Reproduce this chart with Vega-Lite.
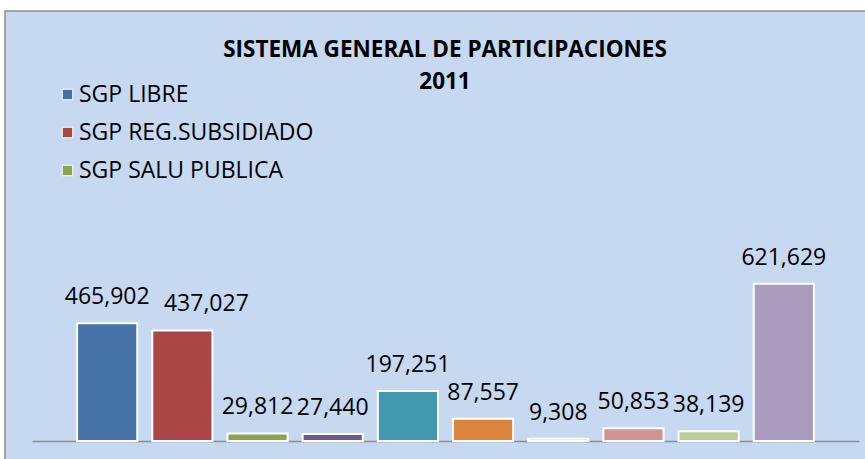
{
  "$schema": "https://vega.github.io/schema/vega-lite/v6.json",
  "width": 870,
  "height": 460,
  "autosize": {"type": "none"},
  "padding": {"left": 5, "top": 11, "right": 0, "bottom": 0},
  "background": "#FFFFFF",
  "config": {
    "view": {"fill": "#C6D9F1", "stroke": "#8C8C8C", "strokeWidth": 1.5},
    "font": "Open Sans"
  },
  "title": {
    "text": ["SISTEMA GENERAL DE PARTICIPACIONES", "2011"],
    "anchor": "middle",
    "frame": "group",
    "font": "Open Sans",
    "fontSize": 22.5,
    "fontWeight": "bold",
    "color": "#000000",
    "lineHeight": 32,
    "baseline": "top",
    "offset": -82,
    "dx": 5
  },
  "data": {
    "values": [
      {"categoria": "SGP LIBRE", "valor": 465902},
      {"categoria": "SGP REG.SUBSIDIADO", "valor": 437027},
      {"categoria": "SGP SALU PUBLICA", "valor": 29812},
      {"categoria": "CATEGORIA 4", "valor": 27440},
      {"categoria": "CATEGORIA 5", "valor": 197251},
      {"categoria": "CATEGORIA 6", "valor": 87557},
      {"categoria": "CATEGORIA 7", "valor": 9308},
      {"categoria": "CATEGORIA 8", "valor": 50853},
      {"categoria": "CATEGORIA 9", "valor": 38139},
      {"categoria": "CATEGORIA 10", "valor": 621629}
    ]
  },
  "encoding": {
    "x": {
      "field": "categoria",
      "type": "nominal",
      "sort": null,
      "scale": {"range": [27, 854], "paddingInner": 0.2, "paddingOuter": 0.6},
      "axis": {"labels": false, "ticks": false, "title": null, "domainColor": "#8C8C8C", "domainWidth": 1.5, "offset": -30, "grid": false}
    },
    "y": {
      "field": "valor",
      "type": "quantitative",
      "scale": {"domain": [0, 700000], "range": [430, 253]},
      "axis": null
    }
  },
  "layer": [
    {
      "mark": {"type": "bar", "stroke": "#FFFFFF", "strokeWidth": 2},
      "encoding": {
        "color": {
          "field": "categoria",
          "type": "nominal",
          "sort": null,
          "scale": {
            "domain": ["SGP LIBRE", "SGP REG.SUBSIDIADO", "SGP SALU PUBLICA", "CATEGORIA 4", "CATEGORIA 5", "CATEGORIA 6", "CATEGORIA 7", "CATEGORIA 8", "CATEGORIA 9", "CATEGORIA 10"],
            "range": ["#4572A7", "#AA4643", "#89A54E", "#71588F", "#4198AF", "#DB843D", "#93A9CF", "#D19392", "#B9CD96", "#A99BBD"]
          },
          "legend": {
            "values": ["SGP LIBRE", "SGP REG.SUBSIDIADO", "SGP SALU PUBLICA"],
            "orient": "none",
            "legendX": 51,
            "legendY": 72,
            "title": null,
            "symbolType": "square",
            "symbolSize": 110,
            "symbolStrokeColor": "#FFFFFF",
            "symbolStrokeWidth": 1,
            "symbolOpacity": 1,
            "labelFont": "Open Sans",
            "labelFontSize": 23,
            "labelColor": "#000000",
            "labelOffset": 0,
            "rowPadding": 14,
            "padding": 0,
            "labelLimit": 400
          }
        }
      }
    },
    {
      "transform": [{"filter": "datum.categoria !== 'SGP REG.SUBSIDIADO'"}],
      "mark": {"type": "text", "baseline": "alphabetic", "dy": -19, "fontSize": 23, "font": "Open Sans", "color": "#000000"},
      "encoding": {"text": {"field": "valor", "type": "quantitative", "format": ","}}
    },
    {
      "transform": [{"filter": "datum.categoria === 'SGP REG.SUBSIDIADO'"}],
      "mark": {"type": "text", "baseline": "alphabetic", "dy": -19, "dx": 24, "fontSize": 23, "font": "Open Sans", "color": "#000000"},
      "encoding": {"text": {"field": "valor", "type": "quantitative", "format": ","}}
    }
  ]
}
